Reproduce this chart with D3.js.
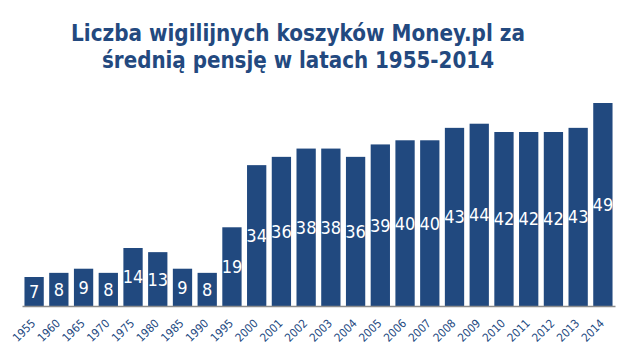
<!DOCTYPE html>
<html>
<head>
<meta charset="utf-8">
<script src="https://cdn.jsdelivr.net/npm/d3@7"></script>
<style>
    body { margin: 0; background: #fff; }
    svg { display: block; }
</style>
</head>
<body>
<div id="chart"></div>
<script>
// Data
const titleLines = ["Liczba wigilijnych koszyków Money.pl za", "średnią pensję w latach 1955-2014"];
const years = ["1955", "1960", "1965", "1970", "1975", "1980", "1985", "1990", "1995",
    "2000", "2001", "2002", "2003", "2004", "2005", "2006", "2007", "2008", "2009",
    "2010", "2011", "2012", "2013", "2014"];
const baskets = [7, 8, 9, 8, 14, 13, 9, 8, 19,
    34, 36, 38, 38, 36, 39, 40, 40, 43, 44,
    42, 42, 42, 43, 49];

const W = 629, H = 354;
const barColor = "#21497f", textColor = "#23497f";
const fontFamily = "'DejaVu Sans Condensed', 'DejaVu Sans', sans-serif";

let svg = d3.select("#chart").append("svg")
    .attr("width", W)
    .attr("height", H);

//Title, fitted to the width of the original
const titleWidths = [454, 392];
svg.append("g").selectAll("text")
    .data(titleLines)
    .enter().append("text")
    .attr("x", 298)
    .attr("y", (d, i) => 41 + i * 27)
    .attr("text-anchor", "middle")
    .attr("fill", textColor)
    .style("font-family", fontFamily)
    .style("font-weight", "bold")
    .style("font-size", "21px")
    .text(d => d)
    .each(function(d, i) {
        let w = this.getComputedTextLength();
        d3.select(this).style("font-size", (21 * titleWidths[i] / w).toFixed(2) + "px");
    });

let xScale = d3.scaleBand()
    .domain(years)
    .range([22, 615])
    .paddingInner(0.22)
    .paddingOuter(0.1);

let yScale = d3.scaleLinear()
    .domain([0, 49])
    .range([306, 103]);

//Bars
svg.append("g").selectAll("rect")
    .data(baskets)
    .enter().append("rect")
    .attr("x", (d, i) => xScale(years[i]))
    .attr("y", d => yScale(d))
    .attr("width", xScale.bandwidth())
    .attr("height", d => yScale(0) - yScale(d))
    .attr("fill", barColor);

//Value labels in the middle of each bar
svg.append("g").selectAll("text")
    .data(baskets)
    .enter().append("text")
    .attr("x", (d, i) => xScale(years[i]) + xScale.bandwidth() / 2)
    .attr("y", d => (yScale(d) + yScale(0)) / 2)
    .attr("dy", "0.36em")
    .attr("text-anchor", "middle")
    .attr("fill", "#fff")
    .style("font-family", fontFamily)
    .style("font-size", "18px")
    .text(d => d);

//x Axis: only the line, labels are drawn below
let xAxis = svg.append("g")
    .attr("transform", "translate(0," + yScale(0) + ")")
    .call(d3.axisBottom(xScale).tickSize(0).tickFormat(""));

xAxis.select(".domain")
    .attr("stroke", "#8c8c8c")
    .attr("stroke-width", 1.5);

//Rotated year labels
svg.append("g").selectAll("text")
    .data(years)
    .enter().append("text")
    .attr("transform", d => "translate(" + (xScale(d) + xScale.bandwidth() / 2 + 2) + "," + (yScale(0) + 18) + ") rotate(-45)")
    .attr("text-anchor", "end")
    .attr("fill", textColor)
    .style("font-family", fontFamily)
    .style("font-size", "11.5px")
    .text(d => d);
</script>
</body>
</html>
